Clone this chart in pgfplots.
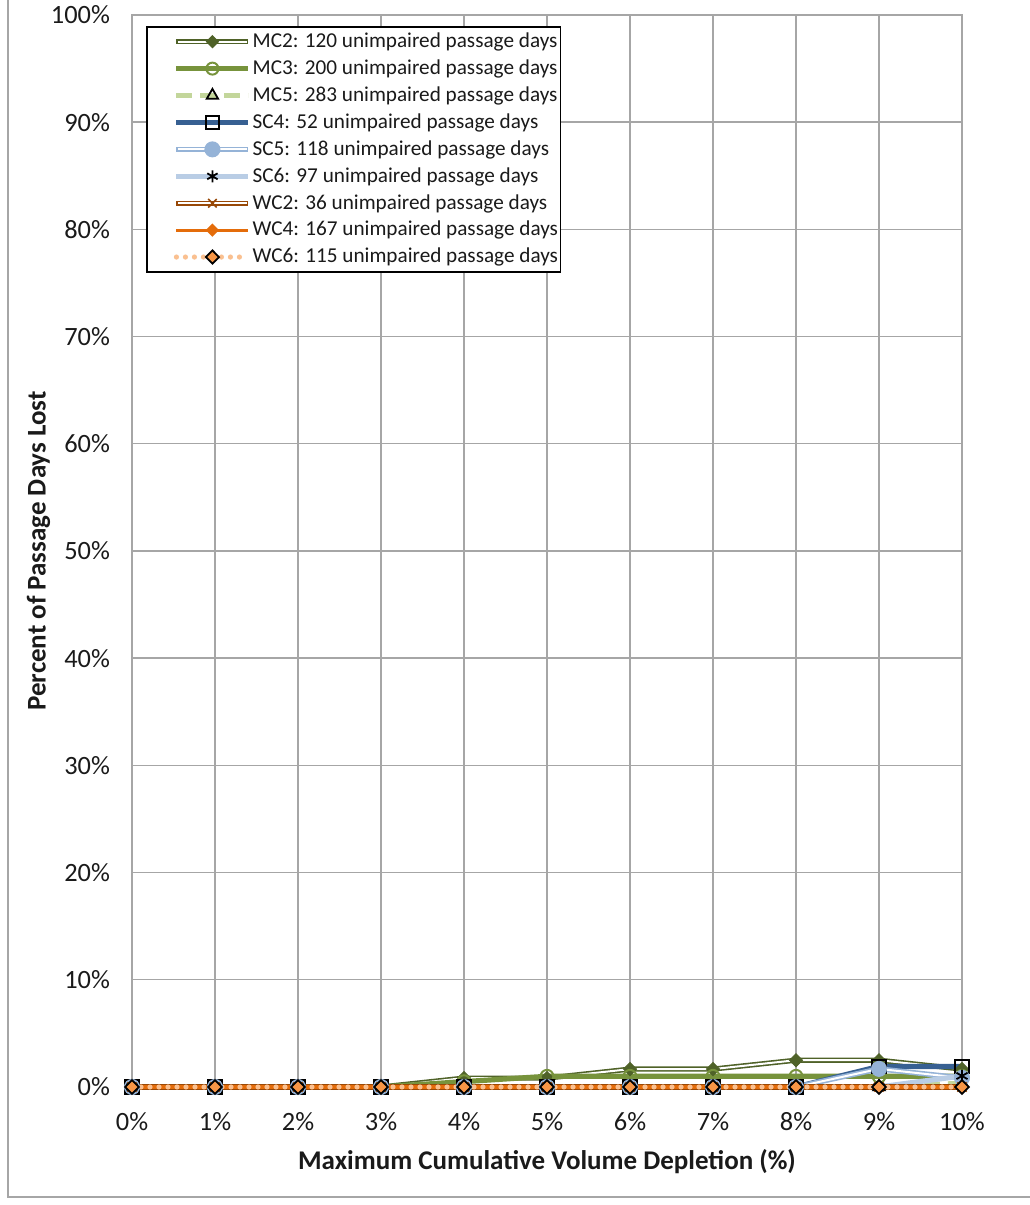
\documentclass[border=0pt]{standalone}
\usepackage{pgfplots}
\pgfplotsset{compat=1.18}
\usepackage{pgfplotstable}
\usepackage{fontspec}
\setmainfont{Carlito}
\definecolor{mctwo}{HTML}{4F6228}
\definecolor{mcthree}{HTML}{77933C}
\definecolor{mcfive}{HTML}{C3D69B}
\definecolor{scfour}{HTML}{376092}
\definecolor{scfive}{HTML}{95B3D7}
\definecolor{scsix}{HTML}{B9CDE5}
\definecolor{wctwo}{HTML}{984807}
\definecolor{wcfour}{HTML}{E46C0A}
\definecolor{wcsix}{HTML}{FAC090}
\definecolor{wcsixm}{HTML}{F79646}
\definecolor{gridc}{HTML}{A6A6A6}
\definecolor{txt}{HTML}{1A1A1A}

\pgfplotstableread{
x   mc2   mc3  mc5   sc4   sc5   sc6   wc2 wc4 wc6
0   0     0    0     0     0     0     0   0   0
1   0     0    0     0     0     0     0   0   0
2   0     0    0     0     0     0     0   0   0
3   0     0    0     0     0     0     0   0   0
4   0.83  0.5  0     0     0     0     0   0   0
5   0.83  1.0  0     0     0     0     0   0   0
6   1.67  1.0  0     0     0     0     0   0   0
7   1.67  1.0  0     0     0     0     0   0   0
8   2.5   1.0  0     0     0     0     0   0   0
9   2.5   1.0  0     1.92  1.69  0     0   0   0
10  1.67  1.0  0.35  1.92  0.85  1.03  0   0   0
}\data

\begin{document}
\begin{tikzpicture}
\useasboundingbox (0,0) rectangle (514.5pt,602.5pt);
\draw[gridc, line width=0.8pt] (4pt,4pt) rectangle (530pt,620pt);
\begin{axis}[
  at={(66pt,59pt)}, anchor=south west, scale only axis,
  width=415pt, height=536pt,
  xmin=0, xmax=10, ymin=0, ymax=100,
  xtick={0,1,...,10}, ytick={0,10,...,100},
  xticklabel={\pgfmathprintnumber{\tick}\%},
  yticklabel={\pgfmathprintnumber{\tick}\%},
  /pgf/number format/assume math mode=true,
  grid=major, major grid style={gridc, line width=0.7pt},
  axis line style={gridc, line width=0.7pt},
  major tick length=0pt,
  tick label style={font=\fontsize{13.2}{15}\selectfont, text=txt},
  xticklabel style={yshift=-9pt},
  yticklabel style={xshift=-7.5pt},
  xlabel={Maximum Cumulative Volume Depletion (\%)},
  ylabel={Percent of Passage Days Lost},
  label style={font=\bfseries\fontsize{13.5}{15}\selectfont, text=txt},
  xlabel style={yshift=-2.5pt},
  ylabel style={yshift=-6.5pt},
  clip=false,
  legend image code/.code={\path (0pt,0pt); \draw[mark repeat=2,mark phase=2] plot coordinates {(13pt,0pt)(31pt,0pt)(49pt,0pt)};},
  legend style={at={(0.0169,0.9897)}, anchor=north west, draw=black, line width=0.8pt,
    font=\fontsize{10.6}{12}\selectfont, text=txt, cells={anchor=west}, row sep=0.6pt,
    inner xsep=0.5pt, inner ysep=1pt, nodes={inner xsep=0.8pt}},
]
% ---------- legend images ----------
\addlegendimage{legend image code/.code={
  \path (0pt,0pt);
  \draw[mctwo, line width=2.6pt] (13pt,0pt)--(49pt,0pt);
  \draw[white, line width=1pt] (13.8pt,0pt)--(48.2pt,0pt);
  \path plot[mark=diamond*, mark size=3pt, mark options={mctwo, fill=mctwo, xscale=1.33, line width=0.5pt}] coordinates {(31pt,0pt)};}}
\addlegendentry{MC2: 120 unimpaired passage days}
\addlegendimage{mcthree, line width=2.6pt, mark=o, mark size=3pt, mark options={fill=white, line width=1pt}}
\addlegendentry{MC3: 200 unimpaired passage days}
\addlegendimage{mcfive, line width=2.6pt, dash pattern=on 8pt off 4pt, mark=triangle, mark size=3.3pt, mark options={black, solid, fill=white, line width=0.9pt}}
\addlegendentry{MC5: 283 unimpaired passage days}
\addlegendimage{scfour, line width=2.6pt, mark=square, mark size=3.2pt, mark options={black, fill=white, line width=1pt}}
\addlegendentry{SC4: 52 unimpaired passage days}
\addlegendimage{legend image code/.code={
  \path (0pt,0pt);
  \draw[scfive, line width=2.6pt] (13pt,0pt)--(49pt,0pt);
  \draw[white, line width=1pt] (13.8pt,0pt)--(48.2pt,0pt);
  \path plot[mark=*, mark size=3.6pt, mark options={scfive, fill=scfive}] coordinates {(31pt,0pt)};}}
\addlegendentry{SC5: 118 unimpaired passage days}
\addlegendimage{scsix, line width=2.6pt, mark=asterisk, mark size=3pt, mark options={black, line width=0.9pt}}
\addlegendentry{SC6: 97 unimpaired passage days}
\addlegendimage{legend image code/.code={
  \path (0pt,0pt);
  \draw[wctwo, line width=2.6pt] (13pt,0pt)--(49pt,0pt);
  \draw[white, line width=1pt] (13.8pt,0pt)--(48.2pt,0pt);
  \path plot[mark=x, mark size=3pt, mark options={wctwo, line width=0.8pt}] coordinates {(31pt,0pt)};}}
\addlegendentry{WC2: 36 unimpaired passage days}
\addlegendimage{wcfour, line width=1.6pt, mark=diamond*, mark size=2.2pt, mark options={fill=wcfour, xscale=1.33}}
\addlegendentry{WC4: 167 unimpaired passage days}
\addlegendimage{wcsix, line width=2.6pt, line cap=round, dash pattern=on 0pt off 4.5pt, mark=diamond*, mark size=3.3pt, mark options={solid, black, fill=wcsixm, xscale=1.33, line width=0.9pt}}
\addlegendentry{WC6: 115 unimpaired passage days}

% ---------- data ----------
% MC2 (double line)
\addplot[forget plot, mctwo, line width=2.6pt, no marks] table[x=x, y=mc2] {\data};
\addplot[forget plot, white, line width=1pt, no marks] table[x=x, y=mc2] {\data};
\addplot[forget plot, only marks, mark=diamond*, mark size=3.3pt, mark options={mctwo, fill=mctwo, xscale=1.33}] table[x=x, y=mc2] {\data};
% MC3
\addplot[forget plot, mcthree, line width=2.6pt, mark=o, mark size=3.2pt, mark options={fill=white, line width=1pt}] table[x=x, y=mc3] {\data};
% MC5
\addplot[forget plot, mcfive, line width=2.6pt, dash pattern=on 8pt off 4pt, mark=triangle, mark size=3.3pt, mark options={black, solid, fill=white, line width=0.9pt}] table[x=x, y=mc5] {\data};
% SC4
\addplot[forget plot, scfour, line width=2.6pt, mark=square, mark size=3.4pt, mark options={black, fill=white, line width=1pt}] table[x=x, y=sc4] {\data};
% SC5 (double line)
\addplot[forget plot, scfive, line width=2.6pt, no marks] table[x=x, y=sc5] {\data};
\addplot[forget plot, white, line width=1pt, no marks] table[x=x, y=sc5] {\data};
\addplot[forget plot, only marks, mark=*, mark size=3.8pt, mark options={scfive, fill=scfive}] table[x=x, y=sc5] {\data};
% SC6
\addplot[forget plot, scsix, line width=2.6pt, mark=asterisk, mark size=3.2pt, mark options={black, line width=0.9pt}] table[x=x, y=sc6] {\data};
% WC2 (double line)
\addplot[forget plot, wctwo, line width=2.6pt, no marks] table[x=x, y=wc2] {\data};
\addplot[forget plot, white, line width=1pt, no marks] table[x=x, y=wc2] {\data};
\addplot[forget plot, only marks, mark=x, mark size=3.3pt, mark options={wctwo, line width=0.8pt}] table[x=x, y=wc2] {\data};
% WC4
\addplot[forget plot, wcfour, line width=1.6pt, mark=diamond*, mark size=2.4pt, mark options={fill=wcfour, xscale=1.33}] table[x=x, y=wc4] {\data};
% WC6
\addplot[forget plot, wcsix, line width=2.6pt, line cap=round, dash pattern=on 0pt off 4.5pt, mark=diamond*, mark size=3.4pt, mark options={solid, black, fill=wcsixm, xscale=1.33, line width=0.9pt}] table[x=x, y=wc6] {\data};
\end{axis}
\end{tikzpicture}
\end{document}
